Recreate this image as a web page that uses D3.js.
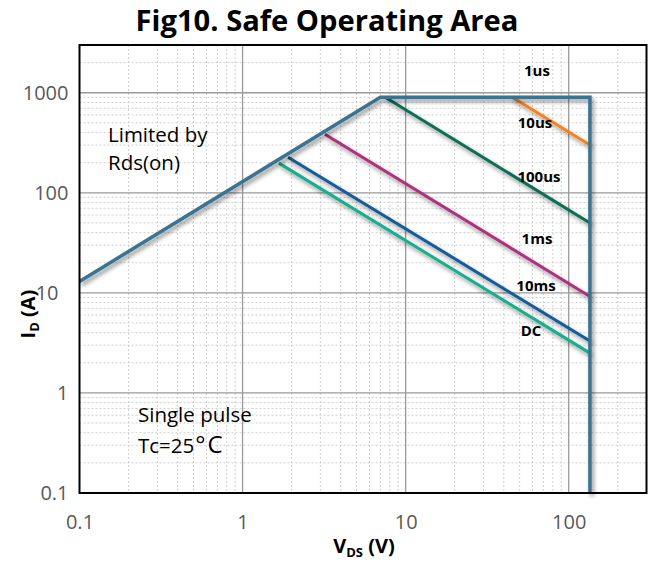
<!DOCTYPE html>
<html><head><meta charset="utf-8">
<script src="https://cdn.jsdelivr.net/npm/d3@7"></script>
<style>
body{margin:0;background:#fff;}
svg{display:block;font-family:"Open Sans",sans-serif;}
</style>
</head><body>
<svg id="c" width="654" height="562"></svg>
<script>
// ---- data ----
const xTicks = [0.1, 1, 10, 100];
const xTickLabels = ["0.1", "1", "10", "100"];
const yTicks = [0.1, 1, 10, 100, 1000];
const yTickLabels = ["0.1", "1", "10", "100", "1000"];
const xMinor = [0.2,0.3,0.4,0.5,0.6,0.7,0.8,0.9,2,3,4,5,6,7,8,9,20,30,40,50,60,70,80,90,200];
const yMinor = [0.2,0.3,0.4,0.5,0.6,0.7,0.8,0.9,2,3,4,5,6,7,8,9,20,30,40,50,60,70,80,90,200,300,400,500,600,700,800,900,2000];
const boundaryV = [0.1, 7, 135, 135];
const boundaryI = [13, 900, 900, 0.1];
const seriesNames = ["10us", "100us", "1ms", "10ms", "DC"];
const seriesV = [[45, 135], [7.5, 135], [3.2, 135], [1.9, 135], [1.67, 135]];
const seriesI = [[900, 300], [900, 50], [385, 9.2], [227, 3.3], [198, 2.5]];
const curveLabels = ["1us", "10us", "100us", "1ms", "10ms", "DC"];

// ---- styles / layout ----
const seriesColors = ["#F7821E", "#0D6E57", "#AC327F", "#135B96", "#17AE8C"];
const boundaryColor = "#3A7391";
const labelPos = [[537,71],[535,123],[539,177],[537,239],[536,286],[531,331]];

const svg = d3.select("#c");
const L = 79.5, R = 646.5, T = 45, B = 493;
const x = d3.scaleLog().domain([0.1, 300]).range([L, R]);
const y = d3.scaleLog().domain([0.1, 3000]).range([B, T]);

const defs = svg.append("defs");
const f = defs.append("filter").attr("id","sh").attr("x","-20%").attr("y","-20%").attr("width","140%").attr("height","140%");
f.append("feDropShadow").attr("dx",2).attr("dy",3).attr("stdDeviation",2)
  .attr("flood-color","#000").attr("flood-opacity",0.45);

// minor grid
const g = svg.append("g");
g.selectAll(".vx").data(xMinor).join("line")
  .attr("x1", d=>x(d)).attr("x2", d=>x(d)).attr("y1", T).attr("y2", B)
  .attr("stroke","#cfcfcf").attr("stroke-width",1).attr("stroke-dasharray","2,2");
g.selectAll(".hy").data(yMinor).join("line")
  .attr("y1", d=>y(d)).attr("y2", d=>y(d)).attr("x1", L).attr("x2", R)
  .attr("stroke","#cfcfcf").attr("stroke-width",1).attr("stroke-dasharray","2,2");
// major grid
g.selectAll(".mx").data(xTicks.slice(1)).join("line")
  .attr("x1", d=>x(d)).attr("x2", d=>x(d)).attr("y1", T).attr("y2", B)
  .attr("stroke","#9a9a9a").attr("stroke-width",1.3);
g.selectAll(".my").data(yTicks.slice(1)).join("line")
  .attr("y1", d=>y(d)).attr("y2", d=>y(d)).attr("x1", L).attr("x2", R)
  .attr("stroke","#9a9a9a").attr("stroke-width",1.3);

// series
const line = d3.line().x(d=>x(d[0])).y(d=>y(d[1]));
seriesNames.forEach((n,i)=>{
  const pts = seriesV[i].map((v,j)=>[v, seriesI[i][j]]);
  svg.append("path").attr("d", line(pts)).attr("fill","none")
    .attr("stroke", seriesColors[i]).attr("stroke-width",3).attr("filter","url(#sh)");
});
const bpts = boundaryV.map((v,j)=>[v, boundaryI[j]]);
svg.append("path").attr("d", line(bpts)).attr("fill","none")
  .attr("stroke", boundaryColor).attr("stroke-width",3.5).attr("stroke-linejoin","miter")
  .attr("filter","url(#sh)");

// border
svg.append("rect").attr("x",L).attr("y",T).attr("width",R-L).attr("height",B-T)
  .attr("fill","none").attr("stroke","#000").attr("stroke-width",2);

// axes
const xa = svg.append("g").attr("transform",`translate(0,${B})`)
  .call(d3.axisBottom(x).tickValues(xTicks).tickFormat((d,i)=>xTickLabels[i]).tickSize(0).tickPadding(22));
const ya = svg.append("g").attr("transform",`translate(${L},0)`)
  .call(d3.axisLeft(y).tickValues(yTicks).tickFormat((d,i)=>yTickLabels[i]).tickSize(0).tickPadding(11));
[xa, ya].forEach(a=>{
  a.select(".domain").remove();
  a.selectAll("text").attr("font-family","'Open Sans',sans-serif").attr("font-size",20).attr("fill","#595959");
});
ya.selectAll(".tick").filter(d=>d===10).select("text").attr("x",-21);

// title
const title = svg.append("text").attr("x",327).attr("y",31).attr("text-anchor","middle")
  .attr("font-weight","bold").attr("font-size",24).attr("fill","#000").text("Fig10. Safe Operating Area");
const tw = title.node().getComputedTextLength();
title.attr("font-size", 24*383/tw);

// x axis title
const xt = svg.append("text").attr("x",364).attr("y",553).attr("text-anchor","middle")
  .attr("font-weight","bold").attr("font-size",20).attr("fill","#000");
xt.append("tspan").text("V");
xt.append("tspan").attr("font-size",13).attr("dy",4).text("DS");
xt.append("tspan").attr("dy",-4).text(" (V)");

// y axis title
const yt = svg.append("text").attr("transform","translate(35,314) rotate(-90)").attr("text-anchor","middle")
  .attr("font-weight","bold").attr("font-size",20).attr("fill","#000");
yt.append("tspan").text("I");
yt.append("tspan").attr("font-size",13).attr("dy",4).text("D");
yt.append("tspan").attr("dy",-4).text(" (A)");

// annotations
const ann = svg.append("g").attr("font-size",20.5).attr("fill","#000");
ann.append("text").attr("x",108).attr("y",142).text("Limited by");
ann.append("text").attr("x",108).attr("y",170).text("Rds(on)");
ann.append("text").attr("x",138).attr("y",422).text("Single pulse");
const tc = ann.append("text").attr("x",138).attr("y",453);
tc.append("tspan").text("Tc=25");
tc.append("tspan").attr("font-size",24).attr("dx",1).text("°");
tc.append("tspan").attr("font-size",24).attr("dx",2).text("C");

// curve labels
svg.append("g").selectAll("text").data(curveLabels).join("text")
  .attr("x",(d,i)=>labelPos[i][0]).attr("y",(d,i)=>labelPos[i][1]).attr("dy","0.35em")
  .attr("text-anchor","middle").attr("font-weight","bold").attr("font-size",15).attr("fill","#000")
  .text(d=>d);
</script>
</body></html>
